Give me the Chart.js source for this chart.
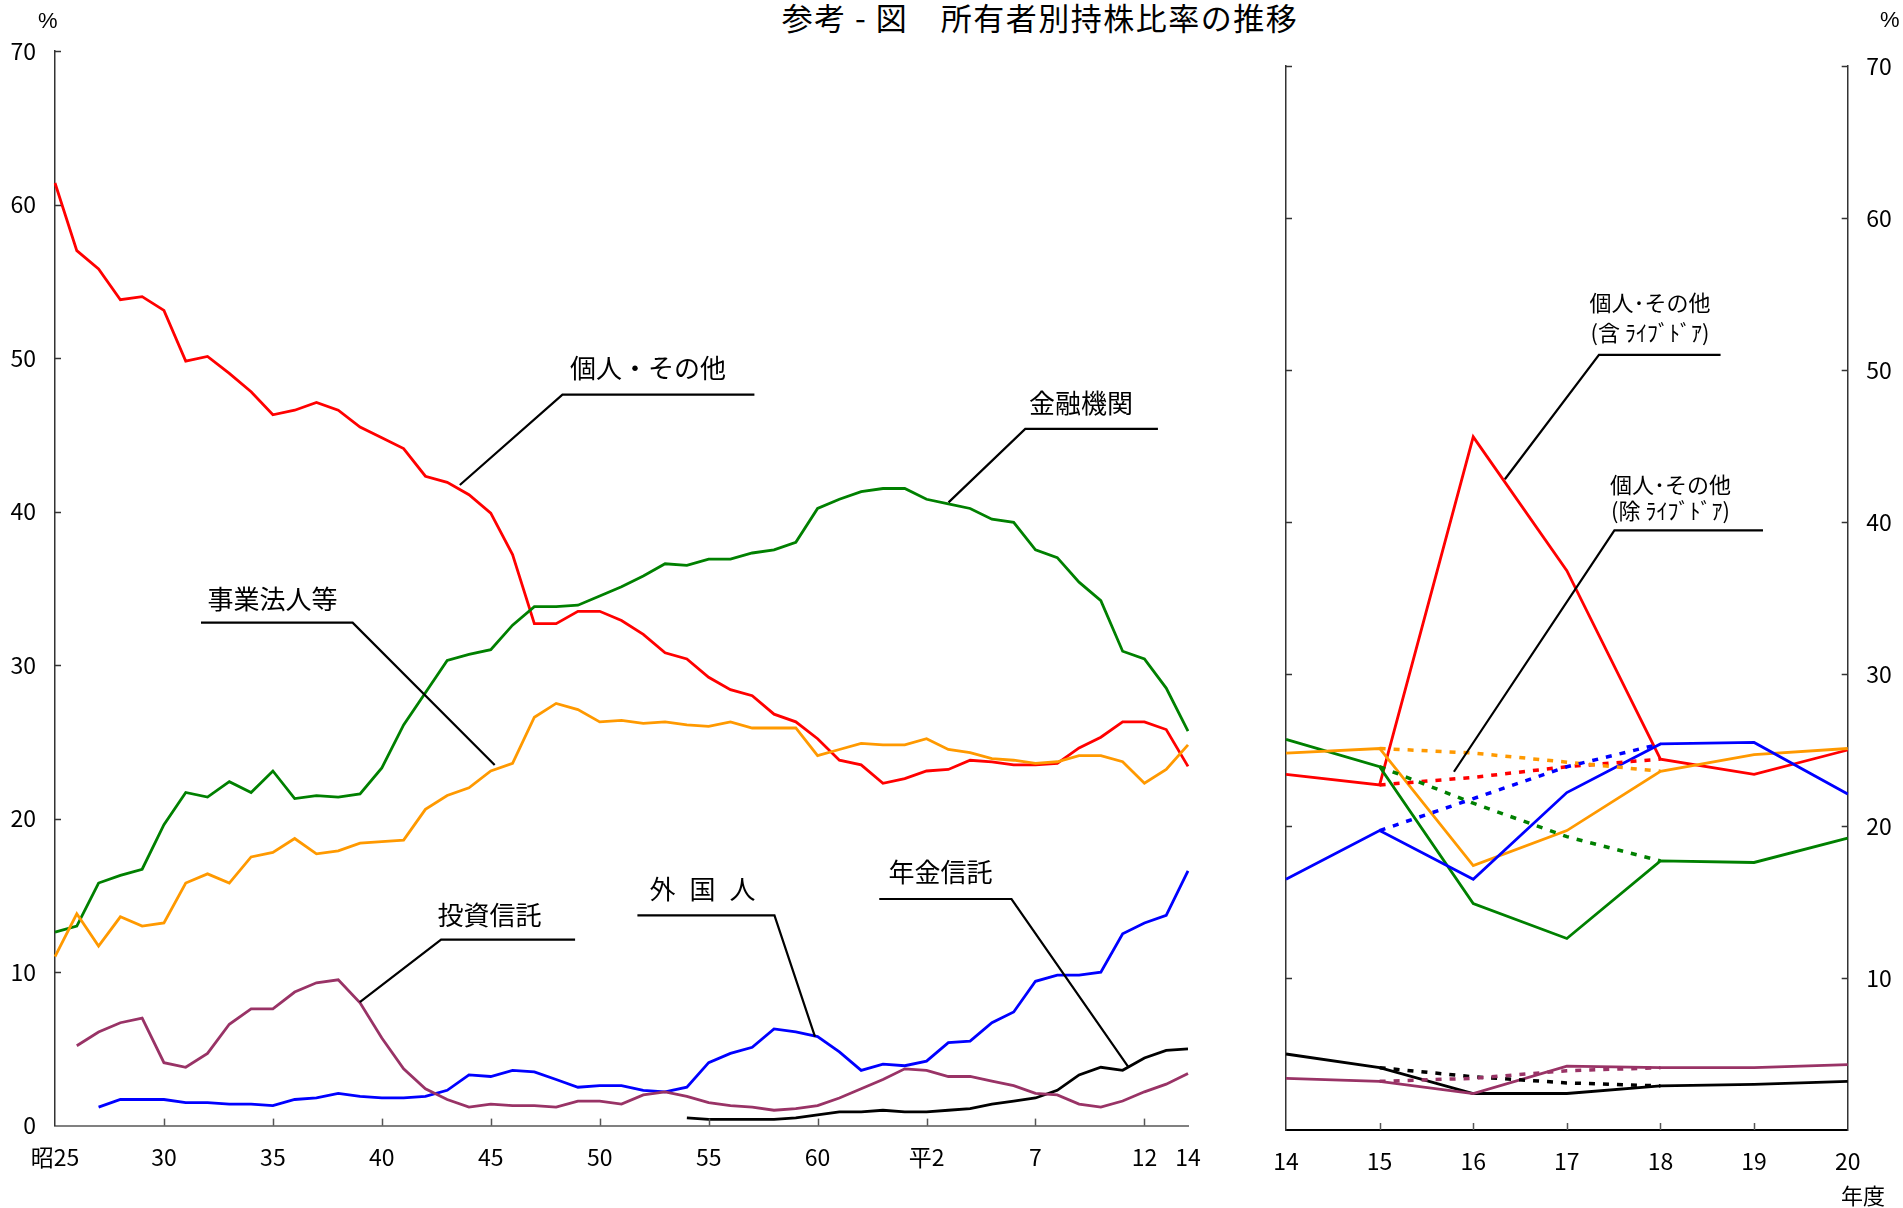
<!DOCTYPE html>
<html lang="ja">
<head>
<meta charset="utf-8">
<title>所有者別持株比率の推移</title>
<script src="https://cdn.jsdelivr.net/npm/chart.js@4.4.1/dist/chart.umd.min.js"></script>
<style>
  html, body { margin: 0; padding: 0; background: #fff; }
  #wrap { position: relative; width: 1903px; height: 1208px; overflow: hidden; }
  canvas { position: absolute; top: 0; }
  .txt { position: absolute; color: #000; white-space: pre; line-height: 1; }
  #title { font-family: "Noto Sans CJK JP", sans-serif; font-size: 31px; left: 0; width: 2080px; text-align: center; top: 1px; letter-spacing: 1.5px; }
  .pct { font-family: "Liberation Sans Narrow", "Liberation Sans", sans-serif; font-size: 22px; }
  .nendo { font-family: "Noto Sans CJK JP", sans-serif; font-size: 22px; }
</style>
</head>
<body>
<div id="wrap">
  <div id="title" class="txt">参考 - 図　所有者別持株比率の推移</div>
  <canvas id="cL" width="1240" height="1208" style="left:0"></canvas>
  <canvas id="cR" width="663" height="1208" style="left:1240px"></canvas>
  <div class="txt pct" style="left:38px;top:10px">%</div>
  <div class="txt pct" style="left:1880px;top:9px">%</div>
  <div class="txt nendo" style="left:1841px;top:1183px">年度</div>
</div>
<script>
// ---------------- DATA (left panel: 昭25 – 平14) ----------------
const categoriesL = ['昭25','昭26','昭27','昭28','昭29','昭30','昭31','昭32','昭33','昭34',
  '昭35','昭36','昭37','昭38','昭39','昭40','昭41','昭42','昭43','昭44',
  '昭45','昭46','昭47','昭48','昭49','昭50','昭51','昭52','昭53','昭54',
  '昭55','昭56','昭57','昭58','昭59','昭60','昭61','昭62','昭63','平1',
  '平2','平3','平4','平5','平6','平7','平8','平9','平10','平11',
  '平12','平13','平14'];
const xTickAtL   = ['昭25','昭30','昭35','昭40','昭45','昭50','昭55','昭60','平2','平7','平12','平14'];
const xTickTextL = ['昭25','30','35','40','45','50','55','60','平2','7','12','14'];
const yTickValues = [0,10,20,30,40,50,60,70];

const kojinL = [61.4,57.0,55.8,53.8,54.0,53.1,49.8,50.1,49.0,47.8,
  46.3,46.6,47.1,46.6,45.5,44.8,44.1,42.3,41.9,41.1,
  39.9,37.2,32.7,32.7,33.5,33.5,32.9,32.0,30.8,30.4,
  29.2,28.4,28.0,26.8,26.3,25.2,23.8,23.5,22.3,22.6,
  23.1,23.2,23.8,23.7,23.5,23.5,23.6,24.6,25.3,26.3,
  26.3,25.8,23.4];
const kinyuL = [12.6,13.0,15.8,16.3,16.7,19.6,21.7,21.4,22.4,21.7,
  23.1,21.3,21.5,21.4,21.6,23.3,26.1,28.2,30.3,30.7,
  31.0,32.6,33.8,33.8,33.9,34.5,35.1,35.8,36.6,36.5,
  36.9,36.9,37.3,37.5,38.0,40.2,40.8,41.3,41.5,41.5,
  40.8,40.5,40.2,39.5,39.3,37.5,37.0,35.4,34.2,30.9,
  30.4,28.5,25.7];
const jigyoL = [11.0,13.8,11.7,13.6,13.0,13.2,15.8,16.4,15.8,17.5,
  17.8,18.7,17.7,17.9,18.4,18.5,18.6,20.6,21.5,22.0,
  23.1,23.6,26.6,27.5,27.1,26.3,26.4,26.2,26.3,26.1,
  26.0,26.3,25.9,25.9,25.9,24.1,24.5,24.9,24.8,24.8,
  25.2,24.5,24.3,23.9,23.8,23.6,23.7,24.1,24.1,23.7,
  22.3,23.2,24.8];
const toshinL = [null,5.2,6.1,6.7,7.0,4.1,3.8,4.7,6.6,7.6,
  7.6,8.7,9.3,9.5,8.0,5.7,3.7,2.4,1.7,1.2,
  1.4,1.3,1.3,1.2,1.6,1.6,1.4,2.0,2.2,1.9,
  1.5,1.3,1.2,1.0,1.1,1.3,1.8,2.4,3.0,3.7,
  3.6,3.2,3.2,2.9,2.6,2.1,2.0,1.4,1.2,1.6,
  2.2,2.7,3.4];
const gaikokuL = [null,null,1.2,1.7,1.7,1.7,1.5,1.5,1.4,1.4,
  1.3,1.7,1.8,2.1,1.9,1.8,1.8,1.9,2.3,3.3,
  3.2,3.6,3.5,3.0,2.5,2.6,2.6,2.3,2.2,2.5,
  4.1,4.7,5.1,6.3,6.1,5.8,4.8,3.6,4.0,3.9,
  4.2,5.4,5.5,6.7,7.4,9.4,9.8,9.8,10.0,12.5,
  13.2,13.7,16.6];
const nenkinL = [null,null,null,null,null,null,null,null,null,null,
  null,null,null,null,null,null,null,null,null,null,
  null,null,null,null,null,null,null,null,null,0.5,
  0.4,0.4,0.4,0.4,0.5,0.7,0.9,0.9,1.0,0.9,
  0.9,1.0,1.1,1.4,1.6,1.8,2.3,3.3,3.8,3.6,
  4.4,4.9,5.0];

// ---------------- DATA (right panel: 平14 – 平20 年度) ----------------
const categoriesR = ['14','15','16','17','18','19','20'];
const xTickAtR = ['15','16','17','18','19'];
const kojinR   = [23.4,22.7,45.6,36.8,24.4,23.4,25.0];   // 含ライブドア
const jigyoR   = [24.8,25.1,17.4,19.7,23.6,24.7,25.1];
const kinyuR   = [25.7,23.9,14.9,12.6,17.7,17.6,19.2];
const gaikokuR = [16.5,19.7,16.5,22.2,25.4,25.5,22.1];
const nenkinR  = [5.0,4.1,2.4,2.4,2.9,3.0,3.2];
const toshinR  = [3.4,3.2,2.4,4.2,4.1,4.1,4.3];
// 除ライブドア (dotted)
const kojinX   = [null,22.7,23.2,23.9,24.4,null,null];
const jigyoX   = [null,25.1,24.8,24.2,23.6,null,null];
const kinyuX   = [null,23.9,21.5,19.3,17.7,null,null];
const gaikokuX = [null,19.7,21.8,23.9,25.4,null,null];
const nenkinX  = [null,4.1,3.5,3.1,2.9,null,null];
const toshinX  = [null,3.2,3.4,3.9,4.1,null,null];

// ---------------- STYLE ----------------
const COL = { red:'#ff0000', green:'#008000', orange:'#ff9900', blue:'#0000ff', purple:'#993366', black:'#000000' };
const NUM_FONT = '"Liberation Sans Narrow", "Noto Sans CJK JP", sans-serif';
const JP_FONT = '"Noto Sans CJK JP", sans-serif';

// plugin: inward tick marks + leader-line annotations, positioned through the chart scales
const decor = {
  id: 'decor',
  afterDraw(chart, args, opts) {
    const ctx = chart.ctx, a = chart.chartArea;
    ctx.save();
    (opts.ticks || []).forEach(t => {
      const s = chart.scales[t.scale];
      ctx.strokeStyle = t.color; ctx.lineWidth = t.width;
      t.values.forEach(v => {
        const p = Math.round(s.getPixelForValue(v)) + 0.5;
        ctx.beginPath();
        if (t.edge === 'bottom') { ctx.moveTo(p, a.bottom); ctx.lineTo(p, a.bottom - t.len); }
        else if (t.edge === 'left') { ctx.moveTo(a.left, p); ctx.lineTo(a.left + t.len, p); }
        else { ctx.moveTo(a.right, p); ctx.lineTo(a.right - t.len, p); }
        ctx.stroke();
      });
    });
    const xs = chart.scales.x, ys = chart.scales[opts.yScale];
    (opts.notes || []).forEach(n => {
      ctx.strokeStyle = '#000'; ctx.lineWidth = 2.2; ctx.lineJoin = 'miter';
      ctx.beginPath();
      n.leader.forEach(([xv, yv], i) => {
        const px = xs.getPixelForValue(xv), py = ys.getPixelForValue(yv);
        if (i) ctx.lineTo(px, py); else ctx.moveTo(px, py);
      });
      ctx.stroke();
      ctx.fillStyle = '#000'; ctx.font = n.font; ctx.textAlign = n.align; ctx.textBaseline = 'middle';
      if ('letterSpacing' in ctx) ctx.letterSpacing = n.spacing || '0px';
      n.lines.forEach(([txt, xv, yv]) => ctx.fillText(txt, xs.getPixelForValue(xv), ys.getPixelForValue(yv)));
      if ('letterSpacing' in ctx) ctx.letterSpacing = '0px';
    });
    ctx.restore();
  }
};

function ds(label, data, color, yAxisID, dotted) {
  return {
    label, data, borderColor: color, backgroundColor: color,
    borderWidth: dotted ? 3.5 : 2.8,
    borderDash: dotted ? [6, 8] : [],
    pointRadius: 0, tension: 0, spanGaps: false, fill: false,
    yAxisID
  };
}

const tickFont = { family: NUM_FONT, size: 23 };

// ---------------- LEFT CHART ----------------
new Chart(document.getElementById('cL'), {
  type: 'line',
  data: {
    labels: categoriesL,
    datasets: [
      ds('投資信託', toshinL, COL.purple, 'y'),
      ds('年金信託', nenkinL, COL.black, 'y'),
      ds('外国人', gaikokuL, COL.blue, 'y'),
      ds('事業法人等', jigyoL, COL.orange, 'y'),
      ds('金融機関', kinyuL, COL.green, 'y'),
      ds('個人・その他', kojinL, COL.red, 'y')
    ]
  },
  options: {
    responsive: false, animation: false, devicePixelRatio: 1,
    layout: { padding: { top: 51, right: 52, left: 0, bottom: 0 } },
    plugins: {
      legend: { display: false }, tooltip: { enabled: false },
      decor: {
        yScale: 'y',
        ticks: [
          { scale: 'x', edge: 'bottom', values: xTickAtL.slice(1, -1), len: 7, color: '#555', width: 1.5 },
          { scale: 'y', edge: 'left', values: yTickValues.slice(1), len: 6, color: '#333', width: 1.5 }
        ],
        notes: [
          { font: '26px ' + JP_FONT, align: 'left', lines: [['個人・その他', 23.64, 49.35]],
            leader: [[18.58, 41.73], [23.29, 47.61], [32.10, 47.61]] },
          { font: '26px ' + JP_FONT, align: 'left', lines: [['金融機関', 44.70, 47.07]],
            leader: [[41.01, 40.60], [44.53, 45.38], [50.62, 45.38]] },
          { font: '26px ' + JP_FONT, align: 'left', lines: [['事業法人等', 7.00, 34.30]],
            leader: [[20.18, 23.49], [13.66, 32.76], [6.70, 32.76]] },
          { font: '26px ' + JP_FONT, align: 'left', lines: [['投資信託', 17.56, 13.72]],
            leader: [[13.99, 8.05], [17.72, 12.11], [23.87, 12.11]] },
          { font: '26px ' + JP_FONT, align: 'left', spacing: '14px', lines: [['外国人', 27.29, 15.41]],
            leader: [[34.88, 5.79], [33.02, 13.70], [26.73, 13.70]] },
          { font: '26px ' + JP_FONT, align: 'left', lines: [['年金信託', 38.25, 16.52]],
            leader: [[49.25, 3.84], [43.90, 14.76], [37.83, 14.76]] }
        ]
      }
    },
    scales: {
      x: {
        type: 'category', offset: false,
        grid: { display: false, drawTicks: false },
        border: { display: true, color: '#808080', width: 2 },
        ticks: {
          autoSkip: false, maxRotation: 0, minRotation: 0, padding: 17.5, color: '#000', font: tickFont,
          callback: function (v, i) { const k = xTickAtL.indexOf(categoriesL[i]); return k >= 0 ? xTickTextL[k] : ''; }
        },
        afterFit: s => { s.height = 1208 - 1125.6; }
      },
      y: {
        type: 'linear', position: 'left', min: 0, max: 70,
        grid: { display: false, drawTicks: false },
        border: { display: true, color: '#333', width: 1.5 },
        ticks: { stepSize: 10, padding: 19, color: '#000', font: tickFont },
        afterFit: s => { s.width = 55; }
      }
    }
  },
  plugins: [decor]
});

// ---------------- RIGHT CHART ----------------
new Chart(document.getElementById('cR'), {
  type: 'line',
  data: {
    labels: categoriesR,
    datasets: [
      ds('投資信託(除)', toshinX, COL.purple, 'yR', true),
      ds('年金信託(除)', nenkinX, COL.black, 'yR', true),
      ds('外国人(除)', gaikokuX, COL.blue, 'yR', true),
      ds('事業法人等(除)', jigyoX, COL.orange, 'yR', true),
      ds('金融機関(除)', kinyuX, COL.green, 'yR', true),
      ds('個人・その他(除)', kojinX, COL.red, 'yR', true),
      ds('投資信託', toshinR, COL.purple, 'yR'),
      ds('年金信託', nenkinR, COL.black, 'yR'),
      ds('外国人', gaikokuR, COL.blue, 'yR'),
      ds('事業法人等', jigyoR, COL.orange, 'yR'),
      ds('金融機関', kinyuR, COL.green, 'yR'),
      ds('個人・その他', kojinR, COL.red, 'yR')
    ]
  },
  options: {
    responsive: false, animation: false, devicePixelRatio: 1,
    layout: { padding: { top: 66, right: 0, left: 0, bottom: 0 } },
    plugins: {
      legend: { display: false }, tooltip: { enabled: false },
      decor: {
        yScale: 'yR',
        ticks: [
          { scale: 'x', edge: 'bottom', values: xTickAtR, len: 7, color: '#555', width: 1.5 },
          { scale: 'yL', edge: 'left', values: yTickValues.slice(1), len: 6, color: '#333', width: 1.5 },
          { scale: 'yR', edge: 'right', values: yTickValues.slice(1), len: 6, color: '#333', width: 1.5 }
        ],
        notes: [
          { font: '22px ' + JP_FONT, align: 'center',
            lines: [['個人･その他', 3.888, 54.41], ['(含 ﾗｲﾌﾞﾄﾞｱ)', 3.888, 52.43]],
            leader: [[2.338, 42.81], [3.343, 50.99], [4.642, 50.99]] },
          { font: '22px ' + JP_FONT, align: 'center',
            lines: [['個人･その他', 4.107, 42.43], ['(除 ﾗｲﾌﾞﾄﾞｱ)', 4.107, 40.72]],
            leader: [[1.794, 23.57], [3.508, 39.45], [5.095, 39.45]] }
        ]
      }
    },
    scales: {
      x: {
        type: 'category', offset: false,
        grid: { display: false, drawTicks: false },
        border: { display: true, color: '#000', width: 2 },
        ticks: { autoSkip: false, maxRotation: 0, minRotation: 0, padding: 17.5, color: '#000', font: tickFont },
        afterFit: s => { s.height = 1208 - 1130; }
      },
      yL: {
        type: 'linear', position: 'left', min: 0, max: 70,
        grid: { display: false, drawTicks: false },
        border: { display: true, color: '#333', width: 1.5 },
        ticks: { display: false, stepSize: 10 },
        afterFit: s => { s.width = 46; }
      },
      yR: {
        type: 'linear', position: 'right', min: 0, max: 70,
        grid: { display: false, drawTicks: false },
        border: { display: true, color: '#333', width: 1.5 },
        ticks: { stepSize: 10, padding: 18.5, color: '#000', font: tickFont,
                 callback: v => (v === 0 ? '' : String(v)) },
        afterFit: s => { s.width = 663 - 607.7; }
      }
    }
  },
  plugins: [decor]
});
</script>
</body>
</html>
